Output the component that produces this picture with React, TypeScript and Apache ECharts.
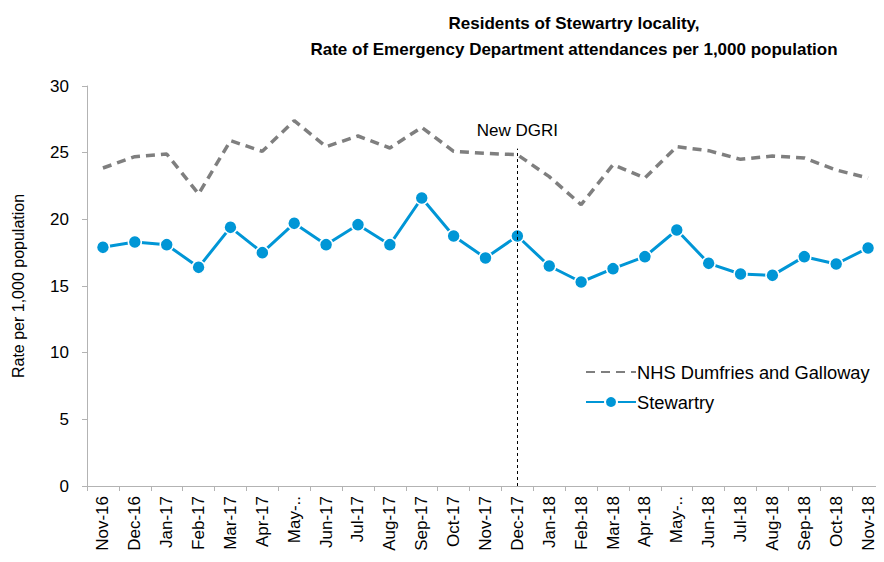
import React, { useEffect, useRef } from "react";
import * as echarts from "echarts";

const months = [
  "Nov-16", "Dec-16", "Jan-17", "Feb-17", "Mar-17", "Apr-17", "May-17", "Jun-17", "Jul-17",
  "Aug-17", "Sep-17", "Oct-17", "Nov-17", "Dec-17", "Jan-18", "Feb-18", "Mar-18", "Apr-18",
  "May-18", "Jun-18", "Jul-18", "Aug-18", "Sep-18", "Oct-18", "Nov-18",
];
const nhsDG = [
  23.85, 24.7, 24.9, 21.9, 25.9, 25.1, 27.4, 25.45, 26.25, 25.35, 26.9, 25.1, 24.95, 24.85,
  23.2, 21.1, 24.1, 23.1, 25.45, 25.15, 24.5, 24.75, 24.6, 23.7, 23.1,
];
const stewartry = [
  17.9, 18.3, 18.1, 16.4, 19.4, 17.5, 19.7, 18.1, 19.6, 18.1, 21.6, 18.75, 17.1, 18.75,
  16.5, 15.3, 16.3, 17.2, 19.2, 16.7, 15.9, 15.8, 17.2, 16.65, 17.85,
];
const markerMonth = "Dec-17";
const markerLabel = "New DGRI";

const FONT = "'Liberation Sans', Arial, sans-serif";

export default function App() {
  const ref = useRef<HTMLDivElement>(null);
  useEffect(() => {
    if (!ref.current) return;
    const chart = echarts.init(ref.current, null, { renderer: "svg" });
    chart.setOption({
      animation: false,
      textStyle: { fontFamily: FONT },
      title: {
        text: "Residents of Stewartry locality,\nRate of Emergency Department attendances per 1,000 population",
        left: 569,
        textAlign: "center",
        top: 5,
        textStyle: { fontFamily: FONT, fontSize: 17, fontWeight: "bold", color: "#000", lineHeight: 26 },
      },
      legend: {
        orient: "vertical",
        left: 580,
        top: 358,
        itemWidth: 50,
        itemHeight: 15,
        itemGap: 12,
        textStyle: { fontFamily: FONT, fontSize: 18.3, color: "#000", padding: [0, 0, 0, -4] },
        data: [
          { name: "NHS Dumfries and Galloway", itemStyle: { opacity: 0 } },
          { name: "Stewartry" },
        ],
      },
      grid: { left: 87, right: 0, top: 86, bottom: 76 },
      xAxis: {
        type: "category",
        data: months,
        boundaryGap: true,
        axisLine: { lineStyle: { color: "#b3b3b3", width: 1 } },
        axisTick: { show: true, length: 5, lineStyle: { color: "#b3b3b3" } },
        axisLabel: {
          rotate: 90,
          interval: 0,
          fontSize: 17,
          color: "#000",
          fontFamily: FONT,
          margin: 10,
          formatter: (v: string) => (v.startsWith("May") ? "May-.." : v),
        },
      },
      yAxis: {
        type: "value",
        min: 0,
        max: 30,
        interval: 5,
        name: "Rate per 1,000 population",
        nameLocation: "middle",
        nameGap: 61,
        nameTextStyle: { fontFamily: FONT, fontSize: 16, color: "#000" },
        axisLine: { show: true, lineStyle: { color: "#b3b3b3", width: 1 } },
        axisTick: { show: true, length: 5, lineStyle: { color: "#b3b3b3" } },
        splitLine: { show: false },
        axisLabel: { fontSize: 17, color: "#000", fontFamily: FONT, margin: 18 },
      },
      series: [
        {
          name: "NHS Dumfries and Galloway",
          type: "line",
          data: nhsDG,
          symbol: "none",
          itemStyle: { color: "#7f7f7f" },
          lineStyle: { color: "#7f7f7f", width: 3.5, type: [9, 6] },
          markLine: {
            silent: true,
            symbol: "none",
            lineStyle: { color: "#000", width: 1, type: [3, 3] },
            label: {
              show: true,
              position: "end",
              formatter: markerLabel,
              fontFamily: FONT,
              fontSize: 17,
              color: "#000",
              distance: 10,
            },
            data: [
              [
                { coord: [markerMonth, 0] },
                { coord: [markerMonth, 25.3] },
              ],
            ],
          },
        },
        {
          name: "Stewartry",
          type: "line",
          data: stewartry,
          symbol: "circle",
          symbolSize: 13,
          itemStyle: { color: "#0096d6", borderColor: "#fff", borderWidth: 1.5 },
          lineStyle: { color: "#0096d6", width: 3 },
        },
      ],
    });
    return () => chart.dispose();
  }, []);
  return <div ref={ref} style={{ width: 884, height: 562, margin: -8 }} />;
}
